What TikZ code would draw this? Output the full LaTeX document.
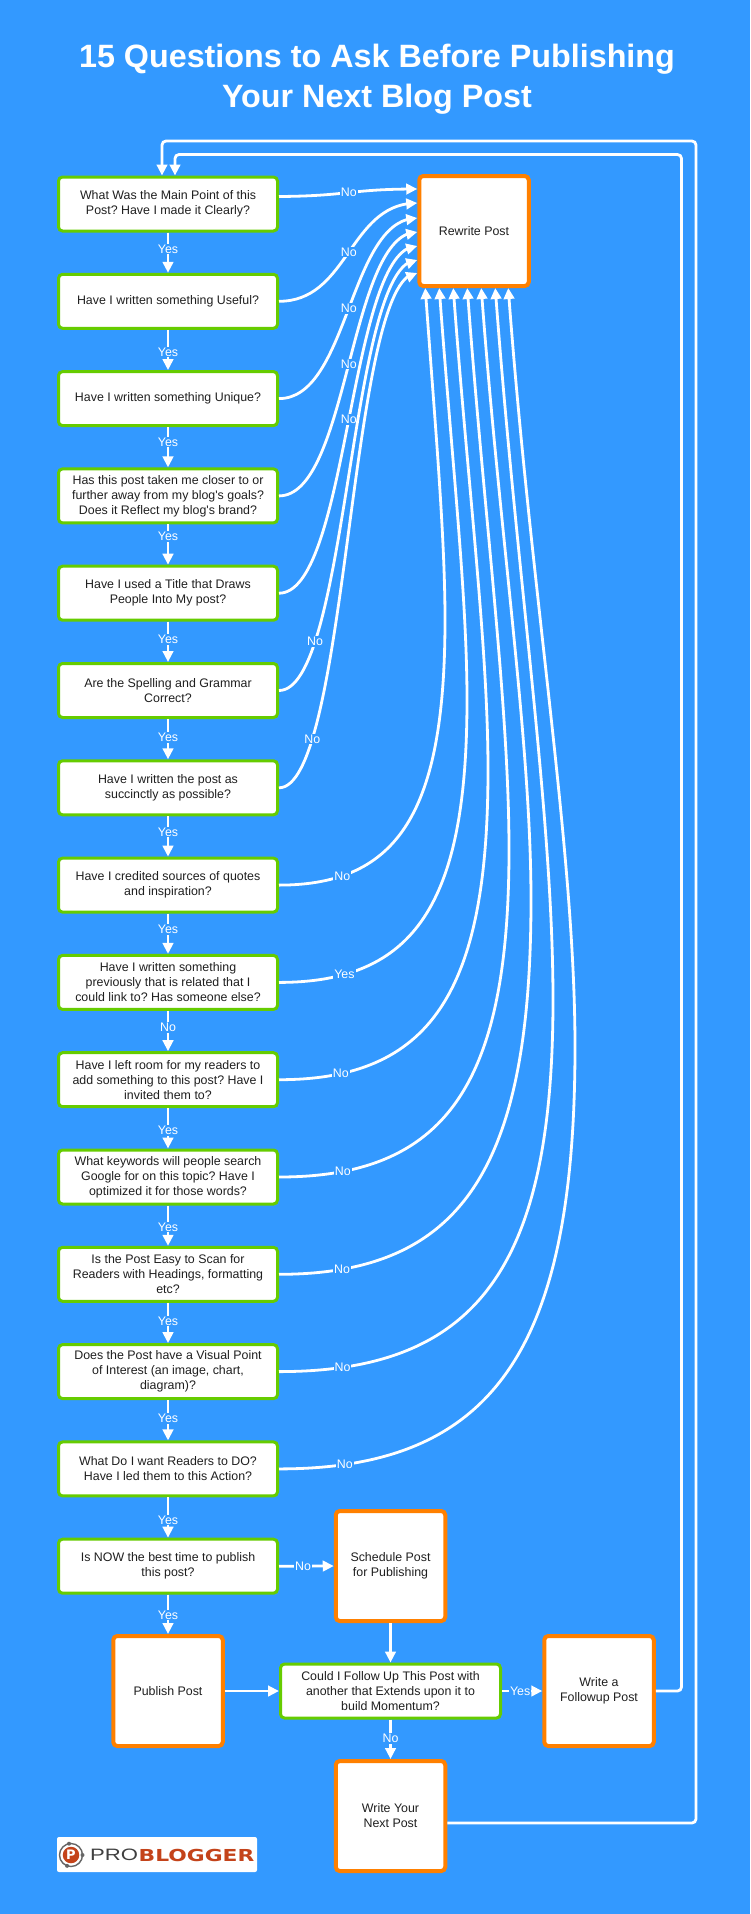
\documentclass[tikz,border=0pt]{standalone}
\usepackage{fontspec}
\setmainfont{Liberation Sans}
\newfontfamily\logofont{DejaVu Sans}
\frenchspacing
\usetikzlibrary{arrows.meta,bending}
\definecolor{pagebg}{HTML}{3399FF}
\definecolor{qgreen}{HTML}{66CC00}
\definecolor{actorange}{HTML}{FF8000}
\definecolor{logored}{HTML}{C4431A}
\tikzset{
    boxbase/.style={rectangle, fill=white, rounded corners=4pt, align=center, text=black!88, inner sep=0pt, font=\fontsize{12.4}{15}\selectfont},
    qbox/.style={boxbase, draw=qgreen, line width=3pt, minimum width=219pt, minimum height=54pt},
    actbox/.style={boxbase, draw=actorange, line width=4pt, minimum width=109.5pt, minimum height=110pt},
    flow/.style={draw=white, line width=2.8pt, -{Triangle[length=11pt,width=10.5pt]}},
    flowlabel/.style={fill=pagebg, text=white, inner sep=1pt, font=\fontsize{12.4}{13}\selectfont},
}
\begin{document}
\begin{tikzpicture}[x=1pt, y=-1pt]

        \path[use as bounding box, fill=pagebg] (0, 0) rectangle (750, 1914);

        \node (title) at (377, 79) [align=center, text=white, font=\fontsize{32.3}{39.5}\selectfont\bfseries] {15 Questions to Ask Before Publishing\\Your Next Blog Post};

        \node (q-1) at (168, 204) [qbox] {What Was the Main Point of this\\Post? Have I made it Clearly?};
        \node (q-2) at (168, 301.3) [qbox] {Have I written something Useful?};
        \node (q-3) at (168, 398.6) [qbox] {Have I written something Unique?};
        \node (q-4) at (168, 495.9) [qbox] {Has this post taken me closer to or\\further away from my blog\textquotesingle s goals?\\Does it Reflect my blog\textquotesingle s brand?};
        \node (q-5) at (168, 593.2) [qbox] {Have I used a Title that Draws\\People Into My post?};
        \node (q-6) at (168, 690.5) [qbox] {Are the Spelling and Grammar\\Correct?};
        \node (q-7) at (168, 787.8) [qbox] {Have I written the post as\\succinctly as possible?};
        \node (q-8) at (168, 885.1) [qbox] {Have I credited sources of quotes\\and inspiration?};
        \node (q-9) at (168, 982.4) [qbox] {Have I written something\\previously that is related that I\\could link to? Has someone else?};
        \node (q-10) at (168, 1079.7) [qbox] {Have I left room for my readers to\\add something to this post? Have I\\invited them to?};
        \node (q-11) at (168, 1177) [qbox] {What keywords will people search\\Google for on this topic? Have I\\optimized it for those words?};
        \node (q-12) at (168, 1274.3) [qbox] {Is the Post Easy to Scan for\\Readers with Headings, formatting\\etc?};
        \node (q-13) at (168, 1371.6) [qbox] {Does the Post have a Visual Point\\of Interest (an image, chart,\\diagram)?};
        \node (q-14) at (168, 1468.9) [qbox] {What Do I want Readers to DO?\\Have I led them to this Action?};
        \node (q-15) at (168, 1566.2) [qbox] {Is NOW the best time to publish\\this post?};

        \node (rewrite) at (474, 231) [actbox] {Rewrite Post};
        \node (schedule) at (390.5, 1566) [actbox] {Schedule Post\\for Publishing};
        \node (publish) at (168, 1691) [actbox] {Publish Post};
        \node (followup) at (390.5, 1691) [qbox, minimum width=220pt] {Could I Follow Up This Post with\\another that Extends upon it to\\build Momentum?};
        \node (writeup) at (599, 1691) [actbox] {Write a\\Followup Post};
        \node (nextpost) at (390.5, 1816) [actbox] {Write Your\\Next Post};

        \foreach \n/\m/\p/\lab in {1/2/.41/Yes, 2/3/.55/Yes, 3/4/.37/Yes, 4/5/.3/Yes, 5/6/.44/Yes, 6/7/.46/Yes, 7/8/.39/Yes, 8/9/.4/Yes, 9/10/.41/No, 10/11/.55/Yes, 11/12/.53/Yes, 12/13/.45/Yes, 13/14/.45/Yes, 14/15/.56/Yes}
            \draw[flow] (q-\n.south) -- node[flowlabel, pos=\p] (down-\n) {\lab} (q-\m.north);

        \draw[flow] ([yshift=7.5pt]q-1.east) .. controls (349, 196) and (349, 189) .. node[flowlabel, pos=.5] (no-1) {No} ([yshift=-15pt]rewrite.north west);

        \foreach \n/\off/\p in {2/29/.5, 3/44/.5, 4/58/.5, 5/72/.5, 6/86/.21, 7/99/.19} {
            \pgfmathsetmacro{\ys}{204+97.3*(\n-1)}
            \draw[flow] (q-\n.east) .. controls (349, \ys) and (349, 174+\off) .. node[flowlabel, pos=\p] (no-\n) {No} ([yshift=-\off pt]rewrite.north west);
        }

        \foreach \n/\dx/\xm/\ym/\p/\lab in {8/8/445/620/.2/No, 9/22/467/700/.18/Yes, 10/36/488/770/.15/No, 11/50/509/850/.14/No, 12/64/531/900/.125/No, 13/78/553/1000/.115/No, 14/91/575/1047/.11/No} {
            \pgfmathsetmacro{\ys}{204+97.3*(\n-1)}
            \draw[flow] (q-\n.east) .. controls (281+.72*\xm-.72*281, \ys) and (\xm, \ym+.72*\ys-.72*\ym) .. (\xm, \ym) node[flowlabel, pos=\p] (no-\n) {\lab}
                .. controls (\xm, \ym-.26*\ym+.26*290) and (417+\dx+.03*\ym-.03*290, 290+.4*\ym-.4*290) .. ([xshift=\dx pt]rewrite.south west);
        }

        \draw[flow] (q-15.east) -- node[flowlabel, pos=.44] (no-15) {No} (schedule.west);
        \draw[flow] (q-15.south) -- node[flowlabel, pos=.52] (yes-15) {Yes} (publish.north);
        \draw[flow] (schedule.south) -- (followup.north);
        \draw[flow] (publish.east) -- (followup.west);
        \draw[flow] (followup.east) -- node[flowlabel, pos=.45] (yes-16) {Yes} (writeup.west);
        \draw[flow] (followup.south) -- node[flowlabel, pos=.48] (no-16) {No} (nextpost.north);

        \draw[flow, rounded corners=4pt] (writeup.east) -| (681.5, 154.5) -| ([xshift=7pt]q-1.north);
        \draw[flow, rounded corners=4pt] ([yshift=-7pt]nextpost.east) -| (696, 141) -| ([xshift=-6pt]q-1.north);

        \node (logo) at (157, 1854.5) [rectangle, fill=white, rounded corners=2pt, minimum width=200pt, minimum height=35pt] {};
        \draw[gray!80!black, line width=1.4pt] (71, 1855) circle (11.5pt);
        \foreach \ang in {100, 0, 250}
            \fill[gray!80!black] (71, 1855) ++(\ang:11.5pt) circle (2pt);
        \node (logo-p) at (71, 1855) [circle, fill=logored, text=white, inner sep=0pt, minimum size=16.5pt, font=\logofont\fontsize{13}{13}\selectfont\bfseries] {P};
        \node (logo-pro) at (114, 1855) [text=black!75, inner sep=0pt, xscale=1.34, font=\fontsize{16.5}{16.5}\selectfont] {PRO};
        \node (logo-blogger) at (196.5, 1855) [text=logored, inner sep=0pt, xscale=1.32, font=\logofont\fontsize{16.5}{16.5}\selectfont\bfseries] {BLOGGER};

\end{tikzpicture}
\end{document}
